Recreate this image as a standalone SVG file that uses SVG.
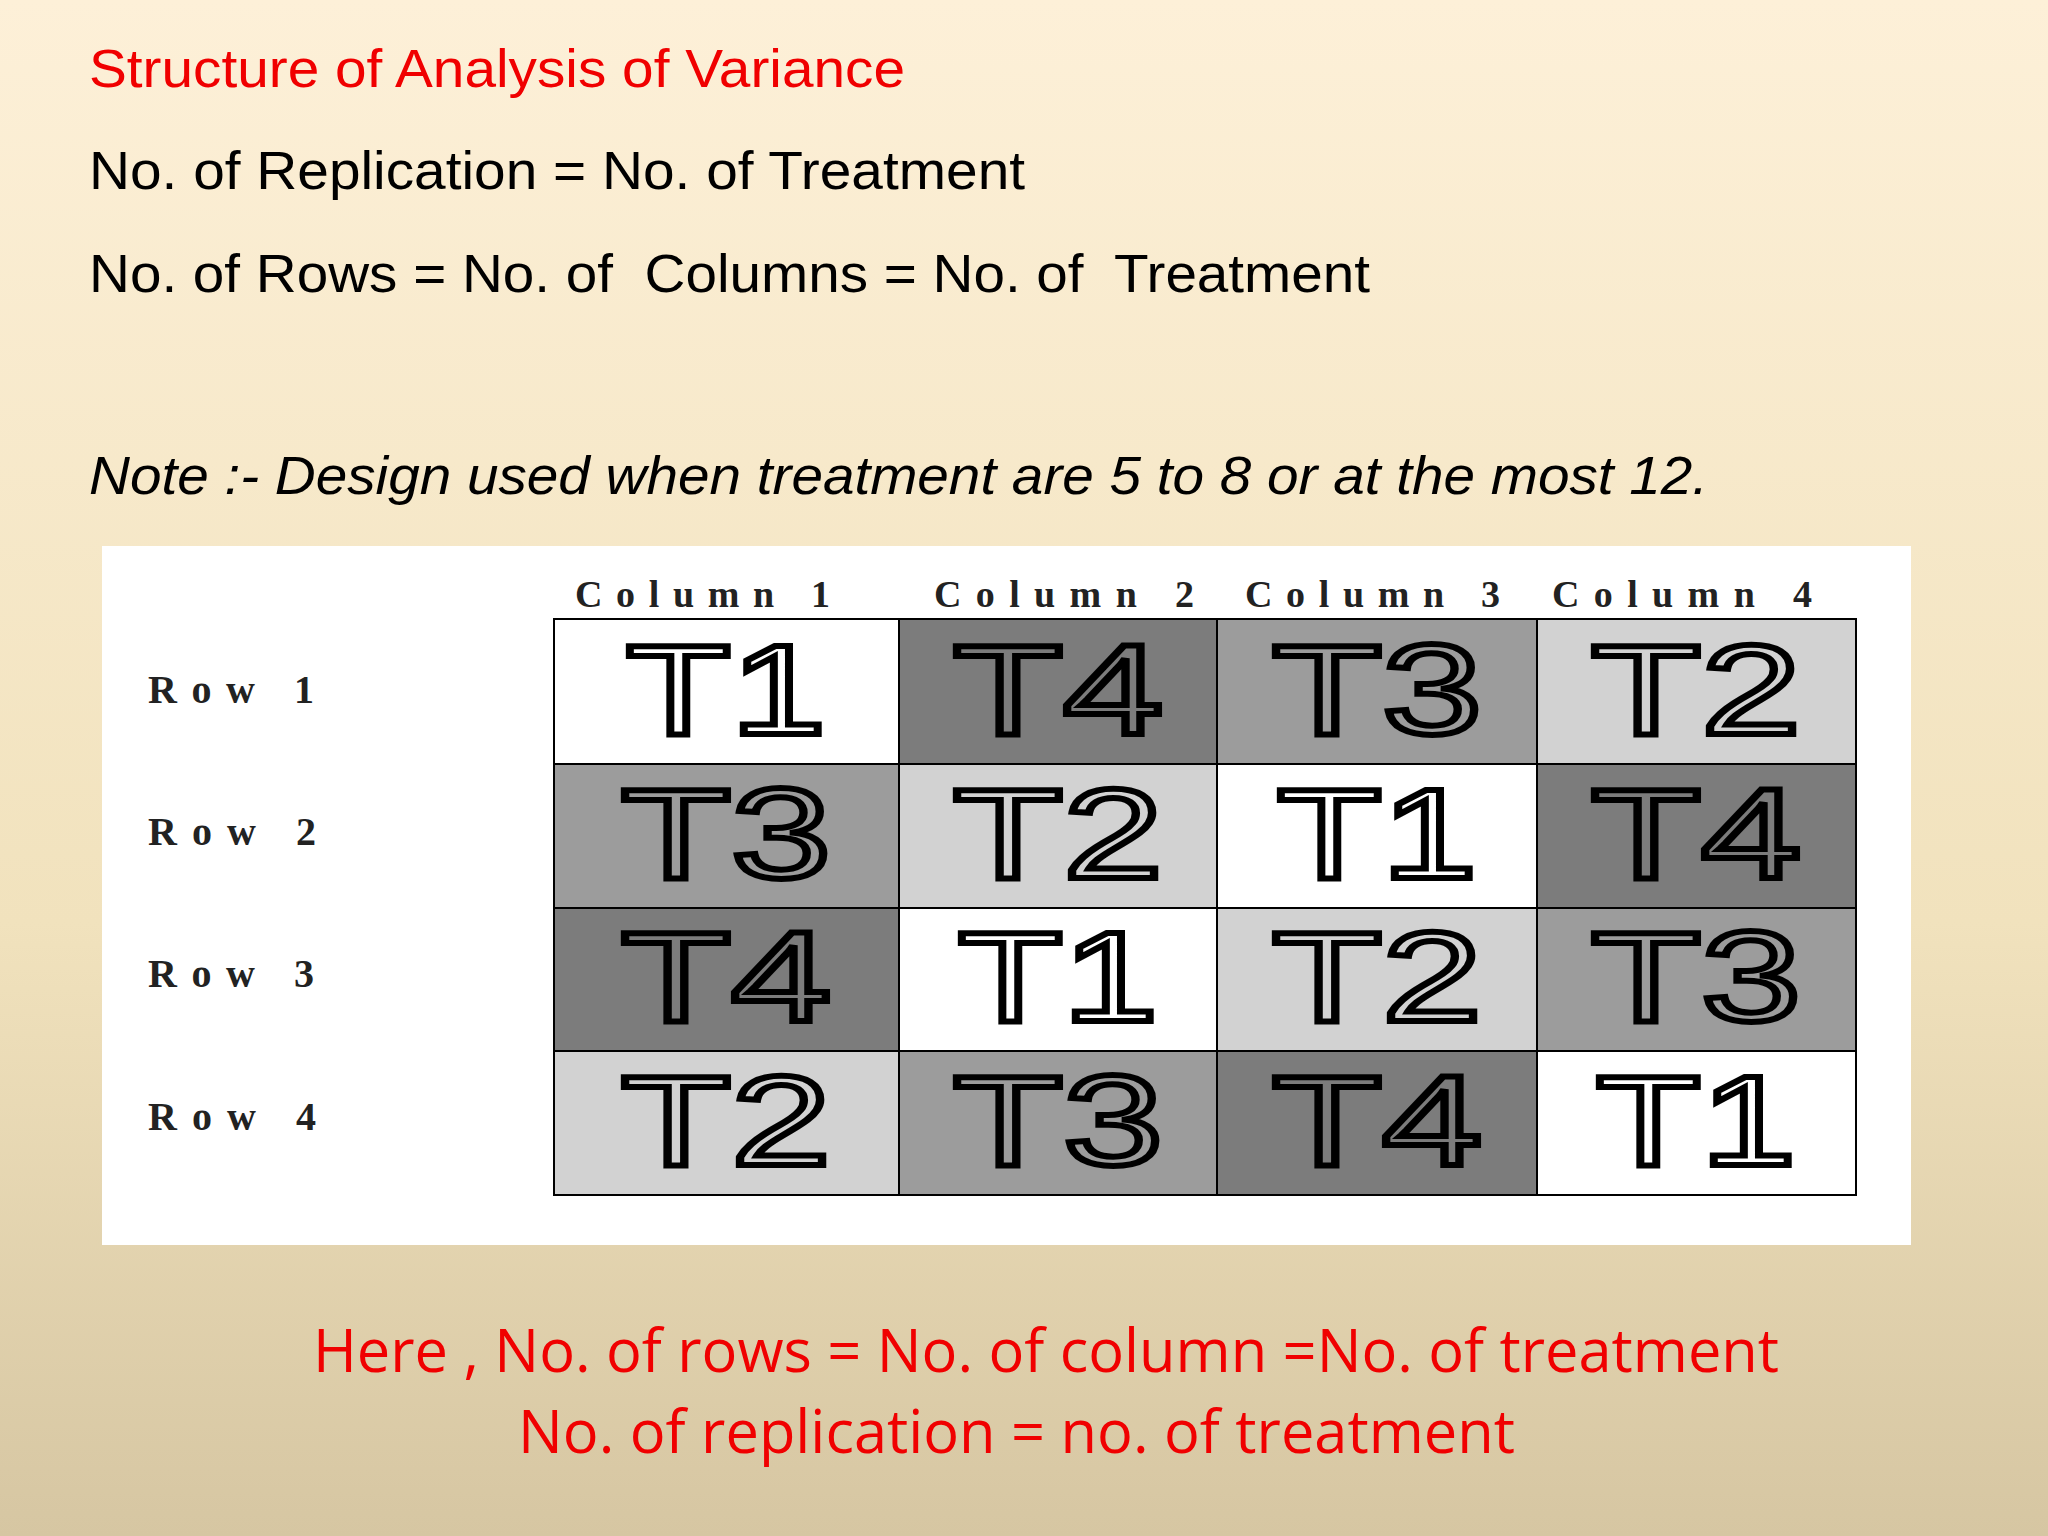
<svg xmlns="http://www.w3.org/2000/svg" width="2048" height="1536" viewBox="0 0 2048 1536">
<defs>
<linearGradient id="bg" x1="0" y1="0" x2="0" y2="1">
<stop offset="0" stop-color="#fdf0d8"/>
<stop offset="0.6" stop-color="#f1e2bd"/>
<stop offset="1" stop-color="#d6c6a2"/>
</linearGradient>
</defs>
<style>
.h{font-family:"Liberation Sans",Arial,sans-serif;font-size:54px}
.red{fill:#f00000}
.b{font-family:"Open Sans","Liberation Sans",sans-serif;font-size:60px;fill:#f00000}
.col{font-family:"Liberation Serif",serif;font-size:38px;font-weight:bold;fill:#222}
.row{font-family:"Liberation Serif",serif;font-size:40px;font-weight:bold;fill:#222}
.t{font-family:"Liberation Sans",Arial,sans-serif;font-size:128px;fill:none;stroke:#000;stroke-width:6;text-anchor:middle}
.c{stroke:#000;stroke-width:2}
.w{fill:#fff}.d{fill:#7c7c7c}.m{fill:#9c9c9c}.l{fill:#d2d2d2}
</style>
<rect width="2048" height="1536" fill="url(#bg)"/>
<text class="h red" x="89" y="87" textLength="816" lengthAdjust="spacingAndGlyphs">Structure of Analysis of Variance</text>
<text class="h" x="89" y="189" textLength="936" lengthAdjust="spacingAndGlyphs">No. of Replication = No. of Treatment</text>
<text class="h" x="89" y="292" textLength="1281" lengthAdjust="spacingAndGlyphs" xml:space="preserve">No. of Rows = No. of  Columns = No. of  Treatment</text>
<text class="h" x="89" y="494" font-style="italic" textLength="1619" lengthAdjust="spacingAndGlyphs">Note :- Design used when treatment are 5 to 8 or at the most 12.</text>
<g id="table">
<rect x="102" y="546" width="1809" height="699" fill="#fff"/>
<text class="col" x="575" y="607" textLength="255" lengthAdjust="spacing">Column 1</text>
<text class="col" x="934" y="607" textLength="260" lengthAdjust="spacing">Column 2</text>
<text class="col" x="1245" y="607" textLength="255" lengthAdjust="spacing">Column 3</text>
<text class="col" x="1552" y="607" textLength="260" lengthAdjust="spacing">Column 4</text>
<text class="row" x="148" y="703" textLength="166" lengthAdjust="spacing">Row 1</text>
<text class="row" x="148" y="845" textLength="168" lengthAdjust="spacing">Row 2</text>
<text class="row" x="148" y="987" textLength="166" lengthAdjust="spacing">Row 3</text>
<text class="row" x="148" y="1130" textLength="168" lengthAdjust="spacing">Row 4</text>
<g id="cells">
<rect class="c w" x="554" y="619" width="345" height="145"/>
<rect class="c d" x="899" y="619" width="318" height="145"/>
<rect class="c m" x="1217" y="619" width="320" height="145"/>
<rect class="c l" x="1537" y="619" width="319" height="145"/>
<rect class="c m" x="554" y="764" width="345" height="144"/>
<rect class="c l" x="899" y="764" width="318" height="144"/>
<rect class="c w" x="1217" y="764" width="320" height="144"/>
<rect class="c d" x="1537" y="764" width="319" height="144"/>
<rect class="c d" x="554" y="908" width="345" height="143"/>
<rect class="c w" x="899" y="908" width="318" height="143"/>
<rect class="c l" x="1217" y="908" width="320" height="143"/>
<rect class="c m" x="1537" y="908" width="319" height="143"/>
<rect class="c l" x="554" y="1051" width="345" height="144"/>
<rect class="c m" x="899" y="1051" width="318" height="144"/>
<rect class="c d" x="1217" y="1051" width="320" height="144"/>
<rect class="c w" x="1537" y="1051" width="319" height="144"/>
</g>
<g id="labels" lengthAdjust="spacingAndGlyphs">
<text class="t" x="726" y="734" textLength="200" lengthAdjust="spacingAndGlyphs">T1</text><text class="t" x="1058" y="734" textLength="210" lengthAdjust="spacingAndGlyphs">T4</text><text class="t" x="1377" y="734" textLength="210" lengthAdjust="spacingAndGlyphs">T3</text><text class="t" x="1696" y="734" textLength="210" lengthAdjust="spacingAndGlyphs">T2</text>
<text class="t" x="726" y="878" textLength="210" lengthAdjust="spacingAndGlyphs">T3</text><text class="t" x="1058" y="878" textLength="210" lengthAdjust="spacingAndGlyphs">T2</text><text class="t" x="1377" y="878" textLength="200" lengthAdjust="spacingAndGlyphs">T1</text><text class="t" x="1696" y="878" textLength="210" lengthAdjust="spacingAndGlyphs">T4</text>
<text class="t" x="726" y="1021" textLength="210" lengthAdjust="spacingAndGlyphs">T4</text><text class="t" x="1058" y="1021" textLength="200" lengthAdjust="spacingAndGlyphs">T1</text><text class="t" x="1377" y="1021" textLength="210" lengthAdjust="spacingAndGlyphs">T2</text><text class="t" x="1696" y="1021" textLength="210" lengthAdjust="spacingAndGlyphs">T3</text>
<text class="t" x="726" y="1165" textLength="210" lengthAdjust="spacingAndGlyphs">T2</text><text class="t" x="1058" y="1165" textLength="210" lengthAdjust="spacingAndGlyphs">T3</text><text class="t" x="1377" y="1165" textLength="210" lengthAdjust="spacingAndGlyphs">T4</text><text class="t" x="1696" y="1165" textLength="200" lengthAdjust="spacingAndGlyphs">T1</text>
</g>
</g>
<text class="b" x="313" y="1372" textLength="1466" lengthAdjust="spacingAndGlyphs">Here , No. of rows = No. of column =No. of treatment</text>
<text class="b" x="518" y="1453" textLength="997" lengthAdjust="spacingAndGlyphs">No. of replication = no. of treatment</text>
</svg>
